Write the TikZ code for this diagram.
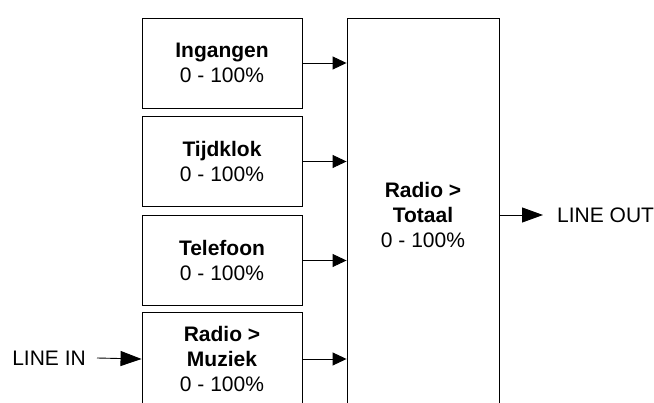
\documentclass[tikz,border=0pt]{standalone}
\usepackage{fontspec}
\setmainfont{Liberation Sans}
\usetikzlibrary{arrows.meta}
\begin{document}
\begin{tikzpicture}[x=1pt,y=-1pt,
  font=\fontsize{21}{25}\selectfont,
  blk/.style={draw=black,line width=0.9pt,minimum width=160pt,minimum height=90pt,inner sep=0pt,align=center},
  arr/.style={draw=black,line width=0.9pt,-{Triangle[length=14pt,width=13pt]}},
  bigarr/.style={draw=black,line width=0.9pt,-{Triangle[length=21pt,width=15pt]}},
  lbl/.style={inner sep=0pt}]
\clip (0,0) rectangle (654,403);
\fill[white] (0,0) rectangle (654,403);
\node[blk] (b1) at (222,63) {\textbf{Ingangen}\\0 - 100\%};
\node[blk] (b2) at (222,161.5) {\textbf{Tijdklok}\\0 - 100\%};
\node[blk] (b3) at (222,260.5) {\textbf{Telefoon}\\0 - 100\%};
\node[blk,minimum height=94pt] (b4) at (222,359) {\textbf{Radio >}\\\textbf{Muziek}\\0 - 100\%};
\node[blk,minimum width=152pt,minimum height=394pt] (big) at (423,215) {\textbf{Radio >}\\\textbf{Totaal}\\0 - 100\%};
\draw[arr] (b1.east) -- (b1.east -| big.west);
\draw[arr] (b2.east) -- (b2.east -| big.west);
\draw[arr] (b3.east) -- (b3.east -| big.west);
\draw[arr] (b4.east) -- (b4.east -| big.west);
\node[lbl,anchor=east] (linein) at (86,358) {LINE IN};
\draw[bigarr] ([xshift=11pt]linein.east) -- (b4.west);
\node[lbl,anchor=west] (lineout) at (557,215) {LINE OUT};
\draw[bigarr] (big.east) -- ([xshift=-14pt]lineout.west);
\end{tikzpicture}
\end{document}
